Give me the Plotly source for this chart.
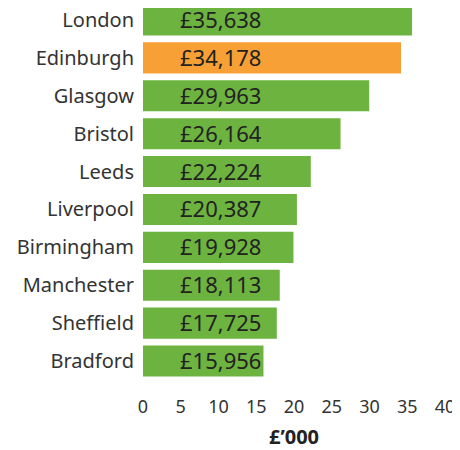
import plotly.graph_objects as go

cities = ["London", "Edinburgh", "Glasgow", "Bristol", "Leeds", "Liverpool",
          "Birmingham", "Manchester", "Sheffield", "Bradford"]
values = [35638, 34178, 29963, 26164, 22224, 20387, 19928, 18113, 17725, 15956]
highlight = "Edinburgh"

GREEN = "#6db33f"
ORANGE = "#f7a035"
FONT = "Noto Sans"

xvals = [v / 1000 for v in values]
colors = [ORANGE if c == highlight else GREEN for c in cities]
labels = ["£{:,}".format(v) for v in values]

fig = go.Figure(go.Bar(
    x=xvals, y=cities, orientation="h",
    marker=dict(color=colors, line=dict(width=0)),
    hoverinfo="skip",
))

for c, lab in zip(cities, labels):
    fig.add_annotation(x=5, y=c, text=lab, showarrow=False, xanchor="left",
                       yanchor="middle", xshift=-2, yshift=1, height=24,
                       valign="middle", borderpad=0,
                       font=dict(family=FONT, size=22, color="#222222"))

# page has an 8px body margin, so figure is sized to fit the 460x450 window
fig.update_layout(
    width=452, height=442,
    margin=dict(l=135, r=15, t=0, b=70),
    paper_bgcolor="white", plot_bgcolor="white",
    bargap=0.18,
    showlegend=False,
    font=dict(family=FONT, color="#333333"),
    xaxis=dict(range=[0, 40], tickvals=[0, 5, 10, 15, 20, 25, 30, 35, 40],
               showgrid=False, zeroline=False, showline=False, automargin=False,
               ticks="outside", ticklen=10, tickcolor="rgba(0,0,0,0)",
               tickfont=dict(size=18, color="#333333"),
               title=dict(text="<b>£’000</b>", font=dict(size=20, color="#222222"),
                          standoff=13)),
    yaxis=dict(range=[9.5, -0.317], showgrid=False, zeroline=False,
               showline=False, ticks="", ticklabelstandoff=8, automargin=False,
               tickfont=dict(size=20, color="#333333")),
)

fig.write_html("out.html")
